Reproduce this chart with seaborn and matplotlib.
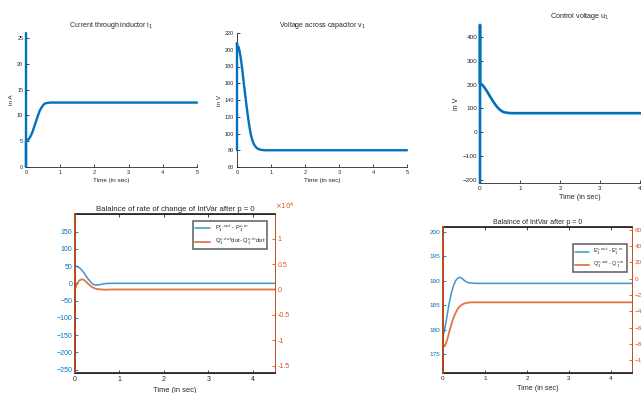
import numpy as np
import pandas as pd
import matplotlib
matplotlib.use("Agg")
import matplotlib.pyplot as plt
import seaborn as sns

# current through inductor i_1 (A); the first three points are the spike at t = 0
t_i = [0, 0, 0, 0.05, 0.1, 0.15, 0.2, 0.25, 0.3, 0.35, 0.4, 0.45, 0.5, 0.55, 0.6, 0.7, 5.0]
i_1 = [26, 0, 5.0, 5.2, 5.6, 6.2, 7.0, 8.0, 9.0, 10.0, 10.9, 11.5, 12.0, 12.3, 12.4, 12.5, 12.5]

# voltage across capacitor v_1 (V)
t_v = [0, 0, 0, 0.05, 0.1, 0.15, 0.2, 0.25, 0.3, 0.35, 0.4, 0.45, 0.5, 0.55, 0.6, 0.7, 0.8, 5.0]
v_1 = [80, 208, 205, 203, 193, 178, 160, 143, 127, 112, 100, 92, 87, 84, 82, 80.5, 80, 80]

# control voltage u_1 (V)
t_u = [0, 0, 0, 0.05, 0.1, 0.15, 0.2, 0.25, 0.3, 0.35, 0.4, 0.45, 0.5, 0.55, 0.6, 0.7, 0.8, 5.0]
u_1 = [-213, 450, 205, 200, 190, 178, 165, 150, 137, 124, 112, 102, 94, 88, 84, 81, 80, 80]

# balance of rate of change
t_p = [0, 0.05, 0.1, 0.15, 0.2, 0.25, 0.3, 0.35, 0.4, 0.45, 0.5, 0.55, 0.6, 0.7, 0.8, 4.5]
p_bal = [50, 49, 45, 39, 31, 21, 12, 4, -2, -5, -5, -4, -2.5, -0.5, 0, 0]
t_qd = [0, 0, 0, 0.05, 0.1, 0.15, 0.2, 0.25, 0.3, 0.35, 0.4, 0.45, 0.5, 0.6, 0.7, 0.8, 4.5]
qd_bal = [-16450, 14870, 0, 1200, 1800, 2000, 1900, 1500, 1100, 700, 400, 200, 80, 0, -50, 0, 0]

# balance of IntVar
t_e = [0, 0.05, 0.1, 0.15, 0.2, 0.25, 0.3, 0.35, 0.4, 0.45, 0.5, 0.55, 0.6, 0.7, 0.8, 4.5]
e_bal = [178.5, 180.5, 183, 185.5, 187.5, 189, 190, 190.5, 190.7, 190.5, 190.1, 189.8, 189.6, 189.5, 189.45, 189.45]
t_q = [0, 0, 0, 0.03, 0.05, 0.1, 0.15, 0.2, 0.25, 0.3, 0.35, 0.4, 0.45, 0.5, 0.6, 0.7, 4.5]
q_bal = [-115.7, 63.4, -80, -83, -82, -75, -65, -56, -48, -42, -37, -34, -32, -30.5, -29.3, -29, -29]

BLUE = "#0072BD"
ORANGE = "#D95319"
GREY = "#262626"

sns.set_theme(style="white")
plt.rcParams["font.family"] = ["Liberation Sans", "DejaVu Sans"]

W, H = 641, 393
fig = plt.figure(figsize=(W / 100, H / 100), dpi=100)


def box(l, t, r, b):
    return [l / W, 1 - b / H, (r - l) / W, (b - t) / H]


def style(ax, fs, top=False):
    for s in ax.spines.values():
        s.set_color(GREY)
        s.set_linewidth(0.6)
    ax.spines["top"].set_visible(top)
    ax.spines["right"].set_visible(top)
    ax.tick_params(direction="in", length=2, width=0.6, labelsize=fs, pad=2,
                   colors=GREY, top=top, bottom=True, left=True)
    ax.grid(False)


def unclip(ax):
    # the t = 0 spike sits on the y axis, draw it over the spine
    for ln in ax.get_lines():
        ln.set_clip_on(False)
        ln.set_zorder(3)


# top row
ax1 = fig.add_axes(box(26, 33, 197, 167))
sns.lineplot(x=t_i, y=i_1, ax=ax1, sort=False, estimator=None, color=BLUE, lw=1.7)
ax1.set(xlim=(0, 5), ylim=(0, 26), xticks=range(6), yticks=range(0, 30, 5))
style(ax1, 4)
unclip(ax1)
ax1.set_title("Current through inductor i$_1$", fontsize=5, pad=4, color=GREY)
ax1.set_xlabel("Time (in sec)", fontsize=4.6, labelpad=2, color=GREY)
ax1.set_ylabel("in A", fontsize=4.6, labelpad=2, color=GREY)

ax2 = fig.add_axes(box(237, 33, 407, 167))
sns.lineplot(x=t_v, y=v_1, ax=ax2, sort=False, estimator=None, color=BLUE, lw=1.7)
ax2.set(xlim=(0, 5), ylim=(60, 220), xticks=range(6), yticks=range(60, 240, 20))
style(ax2, 4)
unclip(ax2)
ax2.set_title("Voltage across capacitor v$_1$", fontsize=5, pad=4, color=GREY)
ax2.set_xlabel("Time (in sec)", fontsize=4.6, labelpad=2, color=GREY)
ax2.set_ylabel("in V", fontsize=4.6, labelpad=2, color=GREY)

ax3 = fig.add_axes(box(480, 25, 680, 183))
sns.lineplot(x=t_u, y=u_1, ax=ax3, sort=False, estimator=None, color=BLUE, lw=1.9)
ax3.set(xlim=(0, 5), ylim=(-213, 450), xticks=range(6), yticks=range(-200, 500, 100))
style(ax3, 4.6)
unclip(ax3)
ax3.set_title("Control voltage u$_1$", fontsize=5.2, pad=5, color=GREY)
ax3.set_xlabel("Time (in sec)", fontsize=5.2, labelpad=2, color=GREY)
ax3.set_ylabel("in V", fontsize=5.2, labelpad=2, color=GREY)

# bottom row
ax4 = fig.add_axes(box(75, 214, 275, 373))
sns.lineplot(x=t_p, y=p_bal, ax=ax4, sort=False, estimator=None, color=BLUE, lw=1.1, alpha=0.75,
             label=r"P$_1^{c,out}$ - P$_1^{c,in}$", legend=False)
ax4.set(xlim=(0, 4.5), ylim=(-260, 201), xticks=range(5), yticks=range(-250, 200, 50))
style(ax4, 5, top=True)
ax4.tick_params(axis="y", colors=BLUE)
ax4.tick_params(axis="x", labelcolor=GREY)
ax4r = ax4.twinx()
sns.lineplot(x=t_qd, y=qd_bal, ax=ax4r, sort=False, estimator=None, color=ORANGE, lw=1.3, alpha=0.8,
             label=r"Q$_1^{c,out}$dot- Q$_1^{c,in}$dot", legend=False)
ax4r.set(ylim=(-16450, 14870), yticks=[-15000, -10000, -5000, 0, 5000, 10000])
ax4r.set_yticklabels(["-1.5", "-1", "-0.5", "0", "0.5", "1"])
ax4r.spines["right"].set_color(ORANGE)
ax4r.spines["right"].set_linewidth(0.6)
ax4r.tick_params(axis="y", direction="in", length=2, width=0.6, labelsize=5, pad=2, colors=ORANGE)
ax4r.text(1.0, 1.01, r"$\times10^4$", transform=ax4r.transAxes, fontsize=5, color=ORANGE,
          ha="left", va="bottom")
ax4r.grid(False)
unclip(ax4r)
ax4.set_title("Balalnce of rate of change of IntVar after p = 0", fontsize=5.6, pad=2, color=GREY)
ax4.set_xlabel("Time (in sec)", fontsize=5.4, labelpad=3, color=GREY)
h = ax4.get_lines()[:1] + ax4r.get_lines()[:1]
leg = ax4r.legend(h, [l.get_label() for l in h], loc="upper right", fontsize=4.2,
                  bbox_to_anchor=(0.975, 0.975), frameon=True, fancybox=False,
                  borderpad=0.3, handlelength=2.6, labelspacing=0.3)
leg.get_frame().set_edgecolor("#444444")
leg.get_frame().set_linewidth(1.2)

ax5 = fig.add_axes(box(443, 227, 632, 373))
sns.lineplot(x=t_e, y=e_bal, ax=ax5, sort=False, estimator=None, color=BLUE, lw=1.1, alpha=0.75,
             label=r"E$_1^{c,out}$ - E$_1^{c,in}$", legend=False)
ax5.set(xlim=(0, 4.5), ylim=(171.1, 201), xticks=range(5), yticks=range(175, 205, 5))
style(ax5, 4.6, top=True)
ax5.tick_params(axis="y", colors=BLUE)
ax5.tick_params(axis="x", labelcolor=GREY)
ax5r = ax5.twinx()
sns.lineplot(x=t_q, y=q_bal, ax=ax5r, sort=False, estimator=None, color=ORANGE, lw=1.3, alpha=0.8,
             label=r"Q$_1^{c,out}$ - Q$_1^{c,in}$", legend=False)
ax5r.set(ylim=(-115.7, 63.4), yticks=range(-100, 80, 20))
ax5r.spines["right"].set_color(ORANGE)
ax5r.spines["right"].set_linewidth(0.6)
ax5r.tick_params(axis="y", direction="in", length=2, width=0.6, labelsize=4.6, pad=2, colors=ORANGE)
ax5r.grid(False)
unclip(ax5r)
ax5.set_title("Balalnce of IntVar after p = 0", fontsize=5.0, pad=2, color=GREY)
ax5.set_xlabel("Time (in sec)", fontsize=5.2, labelpad=3, color=GREY)
h = ax5.get_lines()[:1] + ax5r.get_lines()[:1]
leg = ax5r.legend(h, [l.get_label() for l in h], loc="upper right", fontsize=3.8,
                  bbox_to_anchor=(0.985, 0.9), frameon=True, fancybox=False,
                  borderpad=0.3, handlelength=2.6, labelspacing=0.3)
leg.get_frame().set_edgecolor("#444444")
leg.get_frame().set_linewidth(1.2)

fig.savefig("out.png", dpi=100, facecolor="white")
